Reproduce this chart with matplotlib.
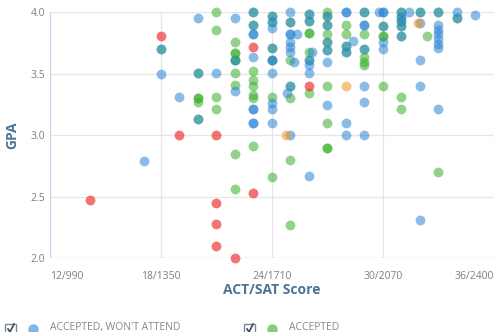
import matplotlib
matplotlib.use("Agg")
import matplotlib.pyplot as plt
from matplotlib.patches import Rectangle
from matplotlib.lines import Line2D

# ACT score (x) and GPA (y) per applicant group
won_t_attend_act = [17.1, 18, 18, 19, 20, 20, 20, 21, 22, 22, 22,
                    23, 23, 23, 23, 23, 23, 23, 23, 23,
                    24, 24, 24, 24, 24, 24, 24, 24, 24, 24,
                    25, 25, 25, 25, 25.35, 25, 25, 25, 25.2, 25, 24.8, 25,
                    26, 26, 26.2, 26, 26, 26, 26,
                    27, 27, 27, 27, 27, 27,
                    28, 28, 28.4, 28, 28, 28, 28,
                    29, 29, 29, 29, 29, 29, 29,
                    30, 30, 29.8, 30, 30, 30,
                    31, 31, 31, 31, 31, 31.4,
                    32, 32, 32, 32, 32,
                    33, 33, 33, 33, 33, 33, 33, 33,
                    34, 34, 35]
won_t_attend_gpa = [2.79, 3.70, 3.50, 3.31, 3.95, 3.51, 3.13, 3.51, 3.95, 3.61, 3.36,
                    4.0, 3.90, 3.82, 3.82, 3.64, 3.21, 3.21, 3.10, 3.10,
                    3.97, 3.92, 3.87, 3.71, 3.61, 3.61, 3.51, 3.26, 3.21, 3.10,
                    4.0, 3.92, 3.82, 3.82, 3.82, 3.76, 3.72, 3.68, 3.60, 3.40, 3.34, 3.0,
                    3.99, 3.93, 3.68, 3.61, 3.57, 3.51, 2.67,
                    3.97, 3.90, 3.76, 3.69, 3.60, 3.25,
                    4.0, 4.0, 3.77, 3.73, 3.68, 3.10, 3.0,
                    4.0, 3.90, 3.90, 3.70, 3.40, 3.27, 3.0,
                    4.0, 4.0, 4.0, 3.89, 3.76, 3.70,
                    4.0, 3.96, 3.93, 3.89, 3.81, 4.0,
                    4.0, 3.91, 3.61, 3.40, 2.31,
                    4.0, 3.90, 3.86, 3.82, 3.78, 3.74, 3.71, 3.21,
                    4.0, 3.95, 3.98]

accepted_act = [18, 20, 20, 20, 20, 20, 21, 21, 21, 21,
                22, 22, 22, 22, 22, 22, 22, 22, 22,
                23, 23, 23, 23, 23, 23, 23, 23,
                24, 24, 24, 24, 24, 24,
                25, 25, 25, 25, 25, 25,
                26, 26, 26, 26, 26, 26, 26,
                27, 27, 27, 27, 27, 27, 27, 27, 27, 27,
                28, 28, 28, 28,
                29, 29, 29, 29, 29, 29,
                30, 30, 30, 30,
                31, 31, 31, 31, 31, 31, 31,
                32.4, 32, 33, 33, 34]
accepted_gpa = [3.70, 3.51, 3.30, 3.30, 3.27, 3.13, 4.0, 3.86, 3.31, 3.21,
                3.76, 3.67, 3.67, 3.61, 3.51, 3.41, 2.85, 2.56, 3.61,
                4.0, 3.90, 3.52, 3.45, 3.40, 3.33, 3.30, 2.91,
                3.97, 3.92, 3.71, 3.61, 3.31, 2.66,
                3.92, 3.61, 3.40, 3.30, 2.80, 2.27,
                3.99, 3.93, 3.83, 3.83, 3.68, 3.61, 3.34,
                4.0, 3.97, 3.90, 3.82, 3.76, 3.69, 3.40, 3.10, 2.90, 2.90,
                3.90, 3.82, 3.73, 3.68,
                4.0, 3.82, 3.70, 3.64, 3.60, 3.57,
                3.89, 3.81, 3.81, 3.40,
                4.0, 3.96, 3.93, 3.89, 3.81, 3.31, 3.21,
                3.81, 4.0, 4.0, 2.70, 3.95]

rejected_act = [14.2, 18, 19, 21, 21, 21, 21, 22, 23, 23, 26]
rejected_gpa = [2.47, 3.81, 3.0, 3.0, 2.45, 2.28, 2.10, 2.0, 3.72, 2.53, 3.40]

waitlisted_act = [24.75, 28, 31.9]
waitlisted_gpa = [3.0, 3.40, 3.91]

x_ticks = [12, 18, 24, 30, 36]
x_tick_labels = ["12/990", "18/1350", "24/1710", "30/2070", "36/2400"]
y_ticks = [2.0, 2.5, 3.0, 3.5, 4.0]

plt.rcParams['font.family'] = ['Open Sans', 'DejaVu Sans']

fig = plt.figure(figsize=(5.01, 3.32), dpi=100)
ax = fig.add_axes([49.7 / 501, 1 - 258.3 / 332, 444 / 501, 246 / 332])
ax.set_xlim(12, 36)
ax.set_ylim(2.0, 4.0)

# grid
for y in y_ticks[1:]:
    ax.axhline(y, color="#e6e6e6", lw=0.9, zorder=0)
for x in x_ticks[1:]:
    ax.axvline(x, color="#e6e6e6", lw=0.9, zorder=0)
for s in ax.spines.values():
    s.set_visible(False)
ax.axvline(12, color="#ccd6eb", lw=1, zorder=0)
ax.axhline(2.0, color="#ccd6eb", lw=1, zorder=0)

size = 50
alpha = 0.55
ax.scatter(accepted_act, accepted_gpa, s=size, c="#3aae2a", alpha=alpha,
           linewidths=0, clip_on=False, zorder=2)
ax.scatter(won_t_attend_act, won_t_attend_gpa, s=size, c="#2a85d5", alpha=alpha,
           linewidths=0, clip_on=False, zorder=3)
ax.scatter(waitlisted_act, waitlisted_gpa, s=size, c="#f7931e", alpha=alpha,
           linewidths=0, clip_on=False, zorder=4)
ax.scatter(rejected_act, rejected_gpa, s=size, c="#eb1e1e", alpha=0.62,
           linewidths=0, clip_on=False, zorder=5)

ax.set_xticks(x_ticks)
ax.set_xticklabels(x_tick_labels)
ax.set_yticks(y_ticks)
ax.set_yticklabels([f"{v:.1f}" for v in y_ticks])
ax.tick_params(length=0, labelsize=7.5, labelcolor="#7f7f7f")
ax.tick_params(axis="x", pad=9)
ax.tick_params(axis="y", pad=3)
labels = ax.get_xticklabels()
labels[0].set_ha("left")
labels[-1].set_ha("right")

ax.set_xlabel("ACT/SAT Score", fontsize=10, fontweight="bold", color="#4f7396",
              labelpad=1)
ax.set_ylabel("GPA", fontsize=10, fontweight="bold", color="#4f7396", labelpad=8)

# legend along the bottom edge
def legend_item(x0, color, text):
    fig.patches.append(Rectangle((x0 / 501, -3 / 332), 11 / 501, 11 / 332,
                                 transform=fig.transFigure, fill=False,
                                 edgecolor="#7a8a9a", lw=1))
    fig.lines.append(Line2D([(x0 + 3) / 501, (x0 + 5) / 501, (x0 + 9) / 501],
                            [3 / 332, 0 / 332, 8 / 332],
                            transform=fig.transFigure, color="#3a4a5a", lw=1.2))
    fig.lines.append(Line2D([(x0 + 28) / 501], [3 / 332], marker="o",
                            markersize=7.5, color=color, markeredgewidth=0,
                            transform=fig.transFigure))
    fig.text((x0 + 45) / 501, 4.5 / 332, text, fontsize=7.5, color="#888888",
             va="center", ha="left")

legend_item(5, "#7fb6e6", "ACCEPTED, WON'T ATTEND")
legend_item(244, "#85cd78", "ACCEPTED")

fig.savefig("out.png", dpi=100, facecolor="white")
